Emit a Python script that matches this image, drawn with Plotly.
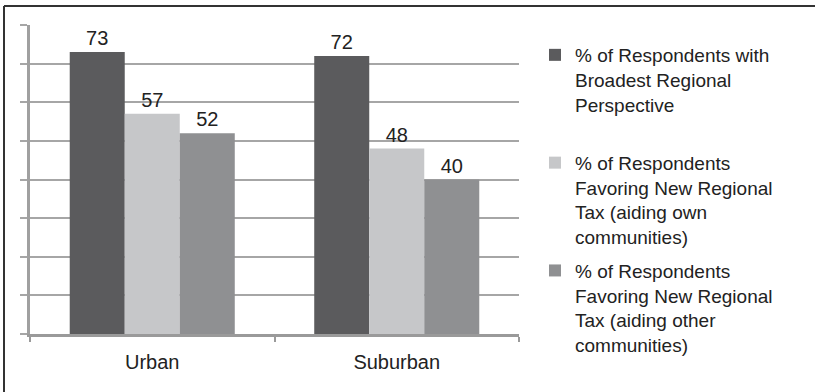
import plotly.graph_objects as go

categories = ["Urban", "Suburban"]
series_names = [
    "% of Respondents with<br>Broadest Regional<br>Perspective<br> ",
    "% of Respondents<br>Favoring New Regional<br>Tax (aiding own<br>communities)",
    "% of Respondents<br>Favoring New Regional<br>Tax (aiding other<br>communities)",
]
broadest = [73, 72]
tax_own = [57, 48]
tax_other = [52, 40]
colors = ["#5b5b5d", "#c6c7c9", "#8f9092"]

W, H = 815, 392
L, R, T, B = 30, 296, 25, 58
pw, ph = W - L - R, H - T - B

fig = go.Figure()
for i, (name, vals) in enumerate(zip(series_names, [broadest, tax_own, tax_other])):
    fig.add_trace(go.Bar(
        x=categories, y=vals, name=name, marker_color=colors[i],
        marker_line_width=0, text=[str(v) for v in vals], textposition="outside",
        textfont=dict(size=20, color="#222"), cliponaxis=False,
        legendgroup=f"g{i}",
    ))

fig.update_layout(
    width=W, height=H,
    margin=dict(l=L, r=R, t=T, b=B, pad=0),
    paper_bgcolor="white", plot_bgcolor="white",
    font=dict(family="Liberation Sans, Arial, sans-serif", size=20, color="#222"),
    barmode="group", bargap=0.325, bargroupgap=0,
    legend=dict(
        x=(535 - L) / pw, xanchor="left",
        y=1 - (36 - T) / ph, yanchor="top",
        font=dict(size=19, color="#222"),
        valign="top", tracegroupgap=6, bgcolor="rgba(0,0,0,0)",
        maxheight=380,
    ),
    xaxis=dict(
        showgrid=False, showline=True, linecolor="#9a9a9a", linewidth=2.5,
        ticks="outside", tickson="boundaries", ticklen=5, tickcolor="#9a9a9a",
        tickwidth=2, tickfont=dict(size=20, color="#222"),
        ticklabelstandoff=8,
    ),
    yaxis=dict(
        range=[0, 80], dtick=10, showticklabels=False,
        showgrid=True, gridcolor="#a6a6a6", gridwidth=2,
        showline=True, linecolor="#a0a0a0", linewidth=3,
        ticks="outside", ticklen=7, tickcolor="#a6a6a6", tickwidth=2,
        zeroline=False,
    ),
    shapes=[
        dict(type="line", xref="paper", yref="paper",
             x0=(4 - L) / pw, x1=(W + 10 - L) / pw,
             y0=1 + (T - 6) / ph, y1=1 + (T - 6) / ph,
             line=dict(color="#333", width=2)),
        dict(type="line", xref="paper", yref="paper",
             x0=(4 - L) / pw, x1=(4 - L) / pw,
             y0=1 + (T - 6) / ph, y1=-(B + 10) / ph,
             line=dict(color="#333", width=2)),
    ],
)

fig.write_html("out.html")
